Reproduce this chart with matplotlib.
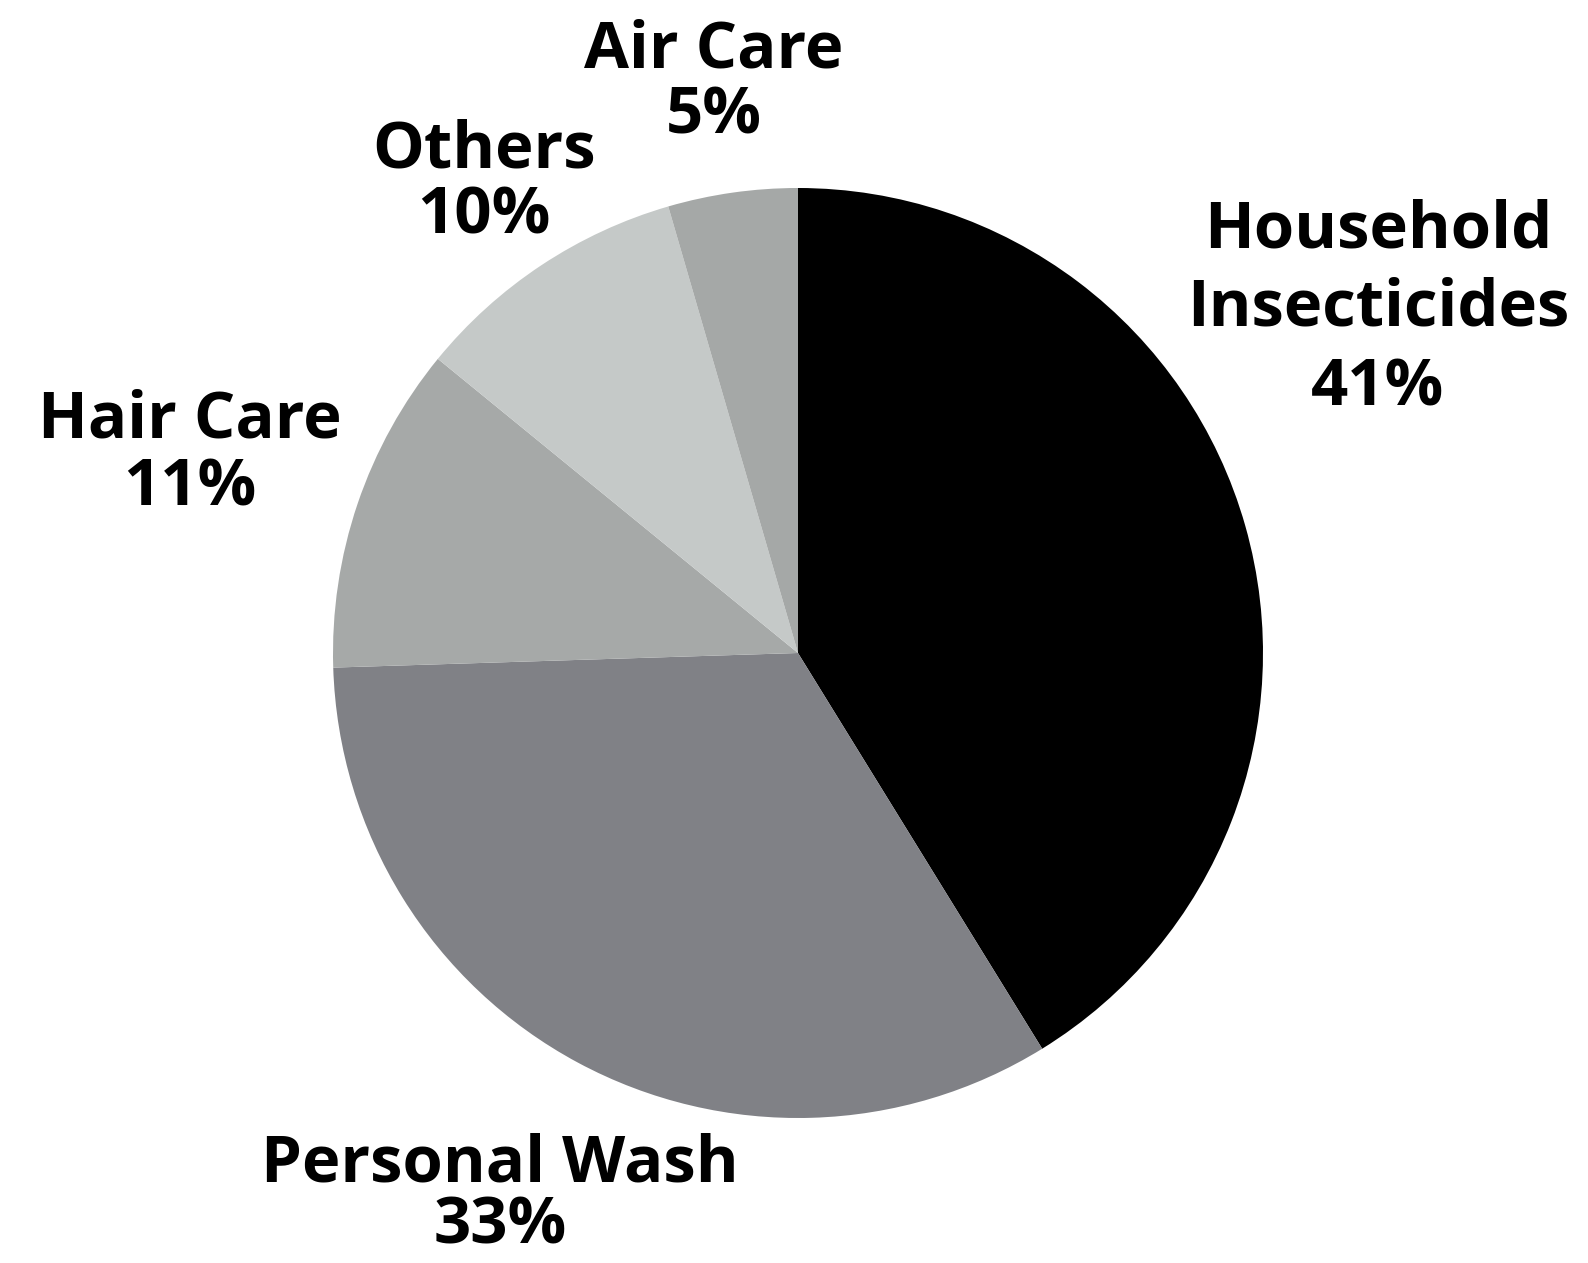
import matplotlib as mpl
mpl.use('agg')
import matplotlib.pyplot as plt

# slice data, clockwise from 12 o'clock
categories = ['Household\nInsecticides', 'Personal Wash', 'Hair Care', 'Others', 'Air Care']
shares = [41.2, 33.3, 11.4, 9.6, 4.5]      # slice sizes as drawn
labels_pct = [41, 33, 11, 10, 5]           # printed percentages
colors = ['#000000', '#808186', '#a6a9a8', '#c5c9c8', '#a5a8a7']

W, H = 1588, 1263
fig = plt.figure(figsize=(W/100, H/100), dpi=100)
ax = fig.add_axes([0, 0, 1, 1])

cx, cy, r = 798, H - 653, 465
ax.pie(shares, colors=colors, startangle=90, counterclock=False,
       center=(cx, cy), radius=r, frame=True,
       wedgeprops=dict(linewidth=0))
ax.set_xlim(0, W)
ax.set_ylim(0, H)
ax.set_aspect('equal')
ax.axis('off')

# label centre x, baseline of first line and baseline gap, pixels from top-left
label_pos = {
    'Household\nInsecticides': (1378, 247, 79),
    'Personal Wash': (500, 1181, 63),
    'Hair Care': (190, 437, 68),
    'Others': (484, 167, 66),
    'Air Care': (714, 68, 65),
}

for cat, val in zip(categories, labels_pct):
    x, y0, gap = label_pos[cat]
    lines = cat.split('\n') + [f'{val}%']
    for i, ln in enumerate(lines):
        ax.text(x, H - (y0 + i*gap), ln, ha='center', va='baseline',
                fontsize=47, fontweight='bold', family=['Open Sans', 'DejaVu Sans'],
                color='black')

fig.savefig('out.png', dpi=100)
